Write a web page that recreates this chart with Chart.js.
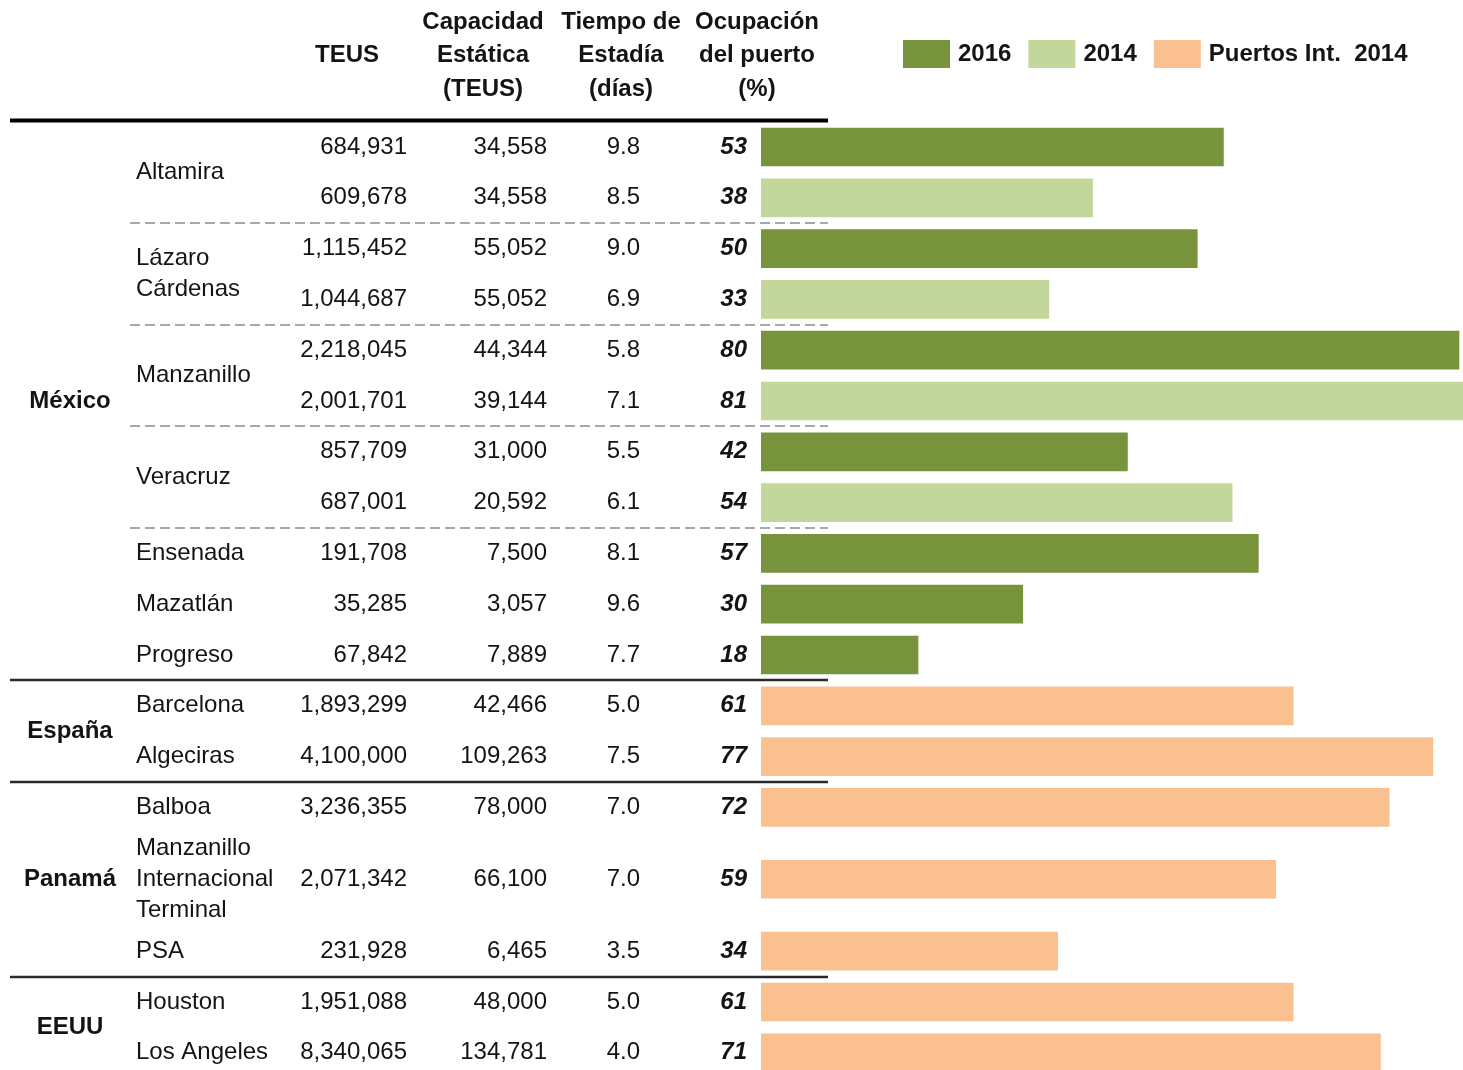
<!DOCTYPE html>
<html lang="es">
<head>
<meta charset="utf-8">
<title>Puertos de contenedores</title>
<script src="https://cdn.jsdelivr.net/npm/chart.js@4.4.1/dist/chart.umd.min.js"></script>
<style>
  html, body { margin: 0; padding: 0; background: #fff; }
  #wrap { width: 1463px; height: 1070px; position: relative; }
</style>
</head>
<body>
<div id="wrap"><canvas id="puertosChart"></canvas></div>
<script>
const paises = ["México", "México", "México", "México", "México", "México", "México", "México", "México", "México", "México",
  "España", "España", "Panamá", "Panamá", "Panamá", "EEUU", "EEUU"];
const puertos = ["Altamira", "Altamira", "Lázaro\nCárdenas", "Lázaro\nCárdenas", "Manzanillo", "Manzanillo",
  "Veracruz", "Veracruz", "Ensenada", "Mazatlán", "Progreso", "Barcelona", "Algeciras", "Balboa",
  "Manzanillo\nInternacional\nTerminal", "PSA", "Houston", "Los Angeles"];
// which legend entry each row belongs to
const serie = [0, 1, 0, 1, 0, 1, 0, 1, 0, 0, 0, 2, 2, 2, 2, 2, 2, 2];
const teus = ["684,931", "609,678", "1,115,452", "1,044,687", "2,218,045", "2,001,701", "857,709", "687,001",
  "191,708", "35,285", "67,842", "1,893,299", "4,100,000", "3,236,355", "2,071,342", "231,928", "1,951,088", "8,340,065"];
const capacidad = ["34,558", "34,558", "55,052", "55,052", "44,344", "39,144", "31,000", "20,592",
  "7,500", "3,057", "7,889", "42,466", "109,263", "78,000", "66,100", "6,465", "48,000", "134,781"];
const estadia = ["9.8", "8.5", "9.0", "6.9", "5.8", "7.1", "5.5", "6.1", "8.1", "9.6", "7.7",
  "5.0", "7.5", "7.0", "7.0", "3.5", "5.0", "4.0"];
const ocupacion = [53, 38, 50, 33, 80, 81, 42, 54, 57, 30, 18, 61, 77, 72, 59, 34, 61, 71];

const seriesLabels = ["2016", "2014", "Puertos Int.  2014"];
const seriesColors = ["#77933C", "#C3D69B", "#FAC090"];

const headers = [
  { x: 347, lines: ["TEUS"] },
  { x: 483, lines: ["Capacidad", "Estática", "(TEUS)"] },
  { x: 621, lines: ["Tiempo de", "Estadía", "(días)"] },
  { x: 757, lines: ["Ocupación", "del puerto", "(%)"] }
];

const FONT = "'Liberation Sans', Arial, sans-serif";
const TEXT = "#141414";
const LINE = 0.61;      // one text line, in row units
const TABLE_RIGHT = 828;

// group consecutive rows of the same port and work out vertical positions
const grupos = [];
puertos.forEach((p, i) => {
  const g = grupos[grupos.length - 1];
  if (g && g.nombre === p) g.filas.push(i);
  else grupos.push({ nombre: p, pais: paises[i], filas: [i] });
});
const filaY = [];
let pos = 0;
grupos.forEach(g => {
  const lineas = g.nombre.split("\n").length;
  const alto = Math.max(g.filas.length, lineas * LINE);
  const extra = (alto - g.filas.length) / 2;
  g.inicio = pos;
  g.fin = pos + alto;
  g.filas.forEach((f, k) => { filaY[f] = pos + extra + k + 0.5; });
  pos += alto;
});

const datasets = seriesLabels.map((label, s) => ({
  label,
  backgroundColor: seriesColors[s],
  data: ocupacion.map((v, i) => ({ x: v, y: filaY[i] })).filter((d, i) => serie[i] === s),
  barThickness: 38,
  grouped: false
}));

const tablePlugin = {
  id: "tabla",
  afterDraw(chart) {
    const ctx = chart.ctx;
    const y = chart.scales.y;
    ctx.save();
    ctx.fillStyle = TEXT;
    ctx.textBaseline = "middle";

    // column headers
    ctx.font = "bold 24px " + FONT;
    ctx.textAlign = "center";
    headers.forEach(h => {
      const top = h.lines.length === 1 ? 55 : 22;
      h.lines.forEach((t, k) => ctx.fillText(t, h.x, top + k * 33.5));
    });

    // legend
    let lx = 903;
    seriesLabels.forEach((label, s) => {
      ctx.fillStyle = seriesColors[s];
      ctx.fillRect(lx, 40, 47, 28);
      ctx.fillStyle = TEXT;
      ctx.textAlign = "left";
      ctx.fillText(label, lx + 55, 54);
      lx += 55 + ctx.measureText(label).width + 17;
    });

    // rows
    ocupacion.forEach((v, i) => {
      const py = y.getPixelForValue(filaY[i]);
      ctx.textAlign = "right";
      ctx.font = "24px " + FONT;
      ctx.fillText(teus[i], 407, py);
      ctx.fillText(capacidad[i], 547, py);
      ctx.fillText(estadia[i], 640, py);
      ctx.font = "italic bold 24px " + FONT;
      ctx.fillText(String(v), 747, py);
    });

    // port names
    ctx.font = "24px " + FONT;
    ctx.textAlign = "left";
    grupos.forEach(g => {
      const lines = g.nombre.split("\n");
      const mid = (g.inicio + g.fin) / 2;
      lines.forEach((t, k) => {
        const v = mid + (k - (lines.length - 1) / 2) * LINE;
        ctx.fillText(t, 136, y.getPixelForValue(v));
      });
    });

    // countries
    ctx.font = "bold 24px " + FONT;
    ctx.textAlign = "center";
    const paisSpan = {};
    grupos.forEach(g => {
      if (!paisSpan[g.pais]) paisSpan[g.pais] = { a: g.inicio, b: g.fin };
      else paisSpan[g.pais].b = g.fin;
    });
    Object.entries(paisSpan).forEach(([p, s]) => {
      ctx.fillText(p, 70, y.getPixelForValue((s.a + s.b) / 2));
    });

    // rules
    ctx.strokeStyle = "#000";
    ctx.lineWidth = 4;
    ctx.beginPath();
    ctx.moveTo(10, y.getPixelForValue(0) - 1);
    ctx.lineTo(TABLE_RIGHT, y.getPixelForValue(0) - 1);
    ctx.stroke();

    grupos.forEach((g, i) => {
      const next = grupos[i + 1];
      if (!next) return;
      const py = Math.round(y.getPixelForValue(g.fin));
      if (next.pais !== g.pais) {
        ctx.setLineDash([]);
        ctx.strokeStyle = "#2a2a2a";
        ctx.lineWidth = 2.5;
        ctx.beginPath();
        ctx.moveTo(10, py);
        ctx.lineTo(TABLE_RIGHT, py);
        ctx.stroke();
      } else if (g.filas.length > 1 || next.filas.length > 1) {
        ctx.setLineDash([10, 5]);
        ctx.strokeStyle = "#a8a8a8";
        ctx.lineWidth = 2;
        ctx.beginPath();
        ctx.moveTo(130, py);
        ctx.lineTo(TABLE_RIGHT, py);
        ctx.stroke();
      }
    });
    ctx.restore();
  }
};

new Chart(document.getElementById("puertosChart"), {
  type: "bar",
  data: { datasets },
  options: {
    indexAxis: "y",
    responsive: true,
    maintainAspectRatio: false,
    animation: false,
    layout: { padding: { left: 761, top: 121.6, right: 0, bottom: 0 } },
    plugins: { legend: { display: false }, tooltip: { enabled: false } },
    scales: {
      x: { type: "linear", min: 0, max: 80.46, display: false },
      y: { type: "linear", min: 0, max: (1070 - 121.6) / 50.8, reverse: true, offset: false, display: false }
    }
  },
  plugins: [tablePlugin]
});
</script>
</body>
</html>
